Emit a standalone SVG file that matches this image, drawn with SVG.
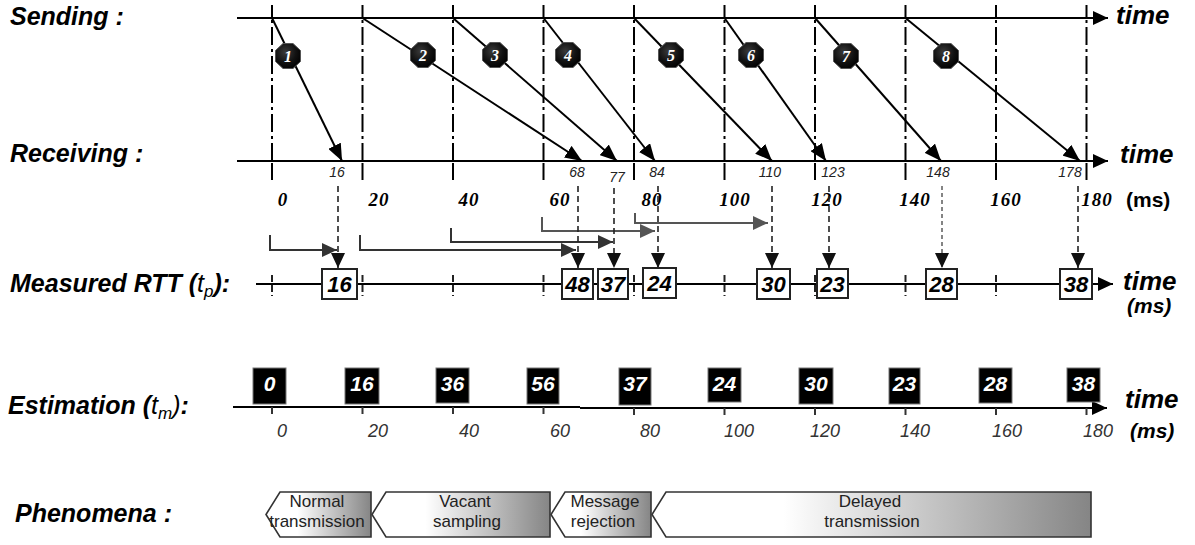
<svg xmlns="http://www.w3.org/2000/svg" width="1195" height="545" viewBox="0 0 1195 545">
<style>
.lbl{font-family:"Liberation Sans",Arial,sans-serif;font-weight:bold;font-style:italic;font-size:25px;fill:#000}
.thin{font-weight:normal}
.time{font-family:"Liberation Sans",Arial,sans-serif;font-weight:bold;font-style:italic;font-size:26px;fill:#000}
.ms{font-family:"Liberation Sans",Arial,sans-serif;font-weight:bold;font-size:21px;fill:#000}
.msi{font-family:"Liberation Sans",Arial,sans-serif;font-weight:bold;font-style:italic;font-size:21px;fill:#000}
.scale{font-family:"Liberation Serif","Times New Roman",serif;font-weight:bold;font-style:italic;font-size:19px;letter-spacing:1px;fill:#000;text-anchor:middle}
.rcv{font-family:"Liberation Sans",Arial,sans-serif;font-style:italic;font-size:14px;fill:#222;text-anchor:middle}
.rtt{font-family:"Liberation Sans",Arial,sans-serif;font-weight:bold;font-style:italic;font-size:22px;fill:#000;text-anchor:middle}
.est{font-family:"Liberation Sans",Arial,sans-serif;font-weight:bold;font-style:italic;font-size:21px;fill:#fff;text-anchor:middle}
.estsc{font-family:"Liberation Sans",Arial,sans-serif;font-style:italic;font-size:18px;fill:#333;text-anchor:middle}
.phen{font-family:"Liberation Sans",Arial,sans-serif;font-size:17px;fill:#222;text-anchor:middle}
.badge{font-family:"Liberation Serif","Times New Roman",serif;font-weight:bold;font-style:italic;font-size:16px;fill:#fff;text-anchor:middle}
.axis{stroke:#000;stroke-width:2;fill:none}
.grid{stroke:#000;stroke-width:2;fill:none}
.gdd{stroke:#000;stroke-width:2;fill:none;stroke-dasharray:3 4 18 4}
.msg{stroke:#000;stroke-width:2;fill:none;marker-end:url(#arr)}
.dash{stroke:#222;stroke-width:1.6;fill:none;stroke-dasharray:6 4;marker-end:url(#darr)}
.tick{stroke:#222;stroke-width:2;fill:none;stroke-dasharray:7 3}
.etick{stroke:#333;stroke-width:2;fill:none}
.elb1{stroke:#333;stroke-width:2;fill:none;marker-end:url(#garr1)}
.elb2{stroke:#555;stroke-width:2;fill:none;marker-end:url(#garr2)}
.rbox{fill:#fff;stroke:#222;stroke-width:2}
.ebox{fill:#000;stroke:#777;stroke-width:1}
.oct{fill:url(#octg);stroke:#555;stroke-width:1}
.shape{fill:url(#pg);stroke:#333;stroke-width:1.6}
</style>
<defs>
<marker id="arr" markerUnits="userSpaceOnUse" markerWidth="17" markerHeight="14" viewBox="0 0 17 14" refX="17" refY="7" orient="auto"><path d="M0,0 L17,7 L0,14 Z" fill="#000"/></marker>
<marker id="axarr" markerUnits="userSpaceOnUse" markerWidth="15" markerHeight="14" viewBox="0 0 15 14" refX="15" refY="7" orient="auto"><path d="M0,0 L15,7 L0,14 Z" fill="#000"/></marker>
<marker id="darr" markerUnits="userSpaceOnUse" markerWidth="15" markerHeight="14" viewBox="0 0 15 14" refX="15" refY="7" orient="auto"><path d="M0,0 L15,7 L0,14 Z" fill="#111"/></marker>
<marker id="garr1" markerUnits="userSpaceOnUse" markerWidth="15" markerHeight="14" viewBox="0 0 15 14" refX="15" refY="7" orient="auto"><path d="M0,0 L15,7 L0,14 Z" fill="#333"/></marker>
<marker id="garr2" markerUnits="userSpaceOnUse" markerWidth="15" markerHeight="14" viewBox="0 0 15 14" refX="15" refY="7" orient="auto"><path d="M0,0 L15,7 L0,14 Z" fill="#555"/></marker>
<radialGradient id="octg" cx="0.4" cy="0.35" r="0.7"><stop offset="0" stop-color="#3a3a3a"/><stop offset="0.6" stop-color="#111"/><stop offset="1" stop-color="#000"/></radialGradient>
<linearGradient id="pg" x1="0" y1="0" x2="1" y2="0"><stop offset="0" stop-color="#fff"/><stop offset="0.3" stop-color="#fff"/><stop offset="1" stop-color="#858585"/></linearGradient>
<path id="octp" d="M-5,-12.5 L5,-12.5 L12.5,-5.5 L12.5,5.5 L5,12.5 L-5,12.5 L-12.5,5.5 L-12.5,-5.5 Z"/>
</defs>

<g id="row-labels">
<text class="lbl" x="10" y="25">Sending :</text>
<text class="lbl" x="10" y="162">Receiving :</text>
<text class="lbl" x="10" y="292">Measured RTT (<tspan class="thin">t</tspan><tspan class="thin" font-size="17" dy="5">p</tspan><tspan dy="-5">):</tspan></text>
<text class="lbl" x="8" y="414">Estimation (<tspan class="thin">t</tspan><tspan class="thin" font-size="17" dy="5">m</tspan><tspan dy="-5" class="thin">)</tspan>:</text>
<text class="lbl" x="15" y="522">Phenomena :</text>
</g>

<g id="grid">
<path class="grid" d="M272,5V18M362.5,5V18M453,5V18M543.5,5V18M634,5V18M724.5,5V18M815,5V18M905.5,5V18M996,5V18M1086.5,5V18"/>
<path class="gdd" d="M272,20V161M362.5,20V161M453,20V161M543.5,20V161M634,20V161M724.5,20V161M815,20V161M905.5,20V161M996,20V161M1086.5,20V161"/>
<path class="grid" d="M272,163V180M362.5,163V180M453,163V180M543.5,163V180M634,163V180M724.5,163V180M815,163V180M905.5,163V180M996,163V180M1086.5,163V180"/>
</g>

<g id="axes">
<path class="axis" d="M237,18H1108" marker-end="url(#axarr)"/>
<path class="axis" d="M237,161H1108" marker-end="url(#axarr)"/>
<path class="axis" d="M256,284H1113" marker-end="url(#axarr)"/>
<path class="axis" d="M233,407H580"/>
<path class="axis" d="M580,408H1107" marker-end="url(#axarr)"/>
<text class="time" x="1116" y="24">time</text>
<text class="time" x="1120" y="163">time</text>
<text class="time" x="1123" y="290">time</text>
<text class="msi" x="1127" y="313">(ms)</text>
<text class="time" x="1125" y="408">time</text>
<text class="msi" x="1130" y="438">(ms)</text>
</g>

<g id="scale-top">
<text class="scale" x="283" y="206">0</text>
<text class="scale" x="379" y="206">20</text>
<text class="scale" x="469" y="206">40</text>
<text class="scale" x="560" y="206">60</text>
<text class="scale" x="652" y="206">80</text>
<text class="scale" x="735" y="206">100</text>
<text class="scale" x="827" y="206">120</text>
<text class="scale" x="915" y="206">140</text>
<text class="scale" x="1006" y="206">160</text>
<text class="scale" x="1097" y="206">180</text>
<text class="ms" x="1126" y="207">(ms)</text>
</g>

<g id="connectors">
<path class="msg" d="M272,18L342,161"/>
<path class="msg" d="M362.5,18L582,161"/>
<path class="msg" d="M453,18L617,161"/>
<path class="msg" d="M543.5,18L655,161"/>
<path class="msg" d="M634,18L772,161"/>
<path class="msg" d="M724.5,18L826,161"/>
<path class="msg" d="M815,18L941,161"/>
<path class="msg" d="M905.5,18L1080,161"/>
<path class="elb1" d="M270,235V250H337"/>
<path class="elb1" d="M360,235V250H576"/>
<path class="elb1" d="M451,228V242H613"/>
<path class="elb2" d="M542,217V231H655"/>
<path class="elb2" d="M635,213V223H768"/>
<path class="dash" d="M338,186V268"/>
<path class="dash" d="M578,186V268"/>
<path class="dash" d="M614,188V268"/>
<path class="dash" d="M658,186V268"/>
<path class="dash" d="M772,186V268"/>
<path class="dash" d="M829,186V268"/>
<path class="dash" d="M942,186V268" style="stroke:#666;stroke-dasharray:4 3"/>
<path class="dash" d="M1078,186V268"/>
</g>

<g id="receive-labels">
<text class="rcv" x="337" y="177">16</text>
<text class="rcv" x="577" y="177">68</text>
<text class="rcv" x="617" y="182">77</text>
<text class="rcv" x="657" y="177">84</text>
<text class="rcv" x="770" y="177">110</text>
<text class="rcv" x="833" y="177">123</text>
<text class="rcv" x="938" y="177">148</text>
<text class="rcv" x="1070" y="177">178</text>
</g>

<g id="badges">
<g id="m1"><use href="#octp" class="oct" x="288" y="56"/><text class="badge" x="288" y="61.5">1</text></g>
<g id="m2"><use href="#octp" class="oct" x="423" y="55"/><text class="badge" x="423" y="60.5">2</text></g>
<g id="m3"><use href="#octp" class="oct" x="495" y="55"/><text class="badge" x="495" y="60.5">3</text></g>
<g id="m4"><use href="#octp" class="oct" x="568" y="55"/><text class="badge" x="568" y="60.5">4</text></g>
<g id="m5"><use href="#octp" class="oct" x="671" y="55"/><text class="badge" x="671" y="60.5">5</text></g>
<g id="m6"><use href="#octp" class="oct" x="751" y="55"/><text class="badge" x="751" y="60.5">6</text></g>
<g id="m7"><use href="#octp" class="oct" x="846" y="56"/><text class="badge" x="846" y="61.5">7</text></g>
<g id="m8"><use href="#octp" class="oct" x="946" y="56"/><text class="badge" x="946" y="61.5">8</text></g>
</g>

<g id="rtt-ticks">
<path class="tick" d="M272,275V296M362.5,275V296M453,275V296M543.5,275V296M634,275V296M724.5,275V296M815,275V296M905.5,275V296M996,275V296"/>
</g>

<g id="rtt-boxes">
<g id="r16"><rect class="rbox" x="322" y="269" width="35" height="30"/><text class="rtt" x="339.5" y="292">16</text></g>
<g id="r48"><rect class="rbox" x="562" y="269" width="31" height="30"/><text class="rtt" x="577.5" y="292">48</text></g>
<g id="r37"><rect class="rbox" x="598" y="269" width="30" height="30"/><text class="rtt" x="613" y="292">37</text></g>
<g id="r24"><rect class="rbox" x="643" y="268" width="33" height="30"/><text class="rtt" x="659.5" y="291">24</text></g>
<g id="r30"><rect class="rbox" x="757" y="269" width="33" height="30"/><text class="rtt" x="773.5" y="292">30</text></g>
<g id="r23"><rect class="rbox" x="817" y="269" width="31" height="29"/><text class="rtt" x="832.5" y="292">23</text></g>
<g id="r28"><rect class="rbox" x="926" y="269" width="31" height="30"/><text class="rtt" x="941.5" y="292">28</text></g>
<g id="r38"><rect class="rbox" x="1060" y="269" width="32" height="30"/><text class="rtt" x="1076" y="292">38</text></g>
</g>

<g id="est-ticks">
<path class="etick" d="M272,407V414M362.5,407V414M453,407V414M543.5,407V414M634,408V415M724.5,408V415M815,408V415M905.5,408V415M996,408V415M1086.5,408V415"/>
</g>

<g id="est-boxes">
<g id="e0"><rect class="ebox" x="253" y="368" width="33" height="36"/><text class="est" x="269.5" y="391">0</text></g>
<g id="e16"><rect class="ebox" x="345" y="368" width="34" height="36"/><text class="est" x="362" y="391">16</text></g>
<g id="e36"><rect class="ebox" x="436" y="368" width="33" height="35"/><text class="est" x="452.5" y="391">36</text></g>
<g id="e56"><rect class="ebox" x="527" y="368" width="32" height="36"/><text class="est" x="543" y="391">56</text></g>
<g id="e37"><rect class="ebox" x="619" y="368" width="32" height="37"/><text class="est" x="635" y="391">37</text></g>
<g id="e24"><rect class="ebox" x="708" y="368" width="33" height="34"/><text class="est" x="724.5" y="391">24</text></g>
<g id="e30"><rect class="ebox" x="799" y="368" width="34" height="36"/><text class="est" x="816" y="391">30</text></g>
<g id="e23"><rect class="ebox" x="889" y="368" width="31" height="36"/><text class="est" x="904.5" y="391">23</text></g>
<g id="e28"><rect class="ebox" x="979" y="368" width="33" height="35"/><text class="est" x="995.5" y="391">28</text></g>
<g id="e38"><rect class="ebox" x="1067" y="368" width="33" height="34"/><text class="est" x="1083.5" y="391">38</text></g>
</g>

<g id="scale-est">
<text class="estsc" x="282" y="437">0</text>
<text class="estsc" x="378" y="437">20</text>
<text class="estsc" x="469" y="437">40</text>
<text class="estsc" x="560" y="437">60</text>
<text class="estsc" x="650" y="437">80</text>
<text class="estsc" x="739" y="437">100</text>
<text class="estsc" x="825" y="437">120</text>
<text class="estsc" x="915" y="437">140</text>
<text class="estsc" x="1007" y="437">160</text>
<text class="estsc" x="1098" y="437">180</text>
</g>

<g id="phenomena">
<g id="p-normal"><path class="shape" d="M280,492H371V537H280L266,514.5Z"/><text class="phen" x="317" y="507">Normal</text><text class="phen" x="317" y="527">transmission</text></g>
<g id="p-vacant"><path class="shape" d="M386,492H550V537H386L372,514.5Z"/><text class="phen" x="465" y="507">Vacant</text><text class="phen" x="467" y="527">sampling</text></g>
<g id="p-reject"><path class="shape" d="M565,492H651V537H565L551,514.5Z"/><text class="phen" x="605" y="507">Message</text><text class="phen" x="603" y="527">rejection</text></g>
<g id="p-delayed"><path class="shape" d="M666,492H1091V537H666L652,514.5Z"/><text class="phen" x="870" y="507">Delayed</text><text class="phen" x="872" y="527">transmission</text></g>
</g>
</svg>
